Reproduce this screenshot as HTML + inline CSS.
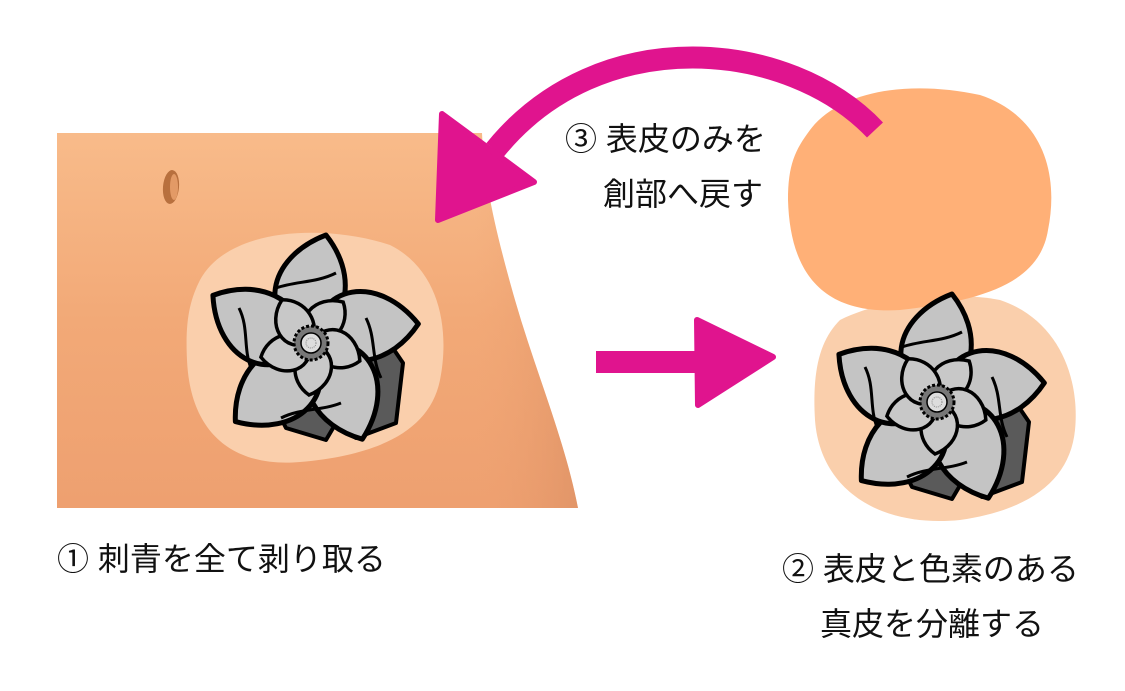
<!DOCTYPE html>
<html><head><meta charset="utf-8"><style>
body{margin:0;background:#fff;width:1125px;height:686px;overflow:hidden}
svg text{font-family:"Liberation Sans","Noto Sans CJK JP",sans-serif;font-size:32px;fill:#111}
</style></head><body>
<svg width="1125" height="686" viewBox="0 0 1125 686" xmlns="http://www.w3.org/2000/svg">
<defs>
<linearGradient id="sk" x1="0" y1="0" x2="0" y2="1">
<stop offset="0" stop-color="#f8bb8a"/><stop offset="0.5" stop-color="#f2a977"/><stop offset="1" stop-color="#eea070"/>
</linearGradient>
<linearGradient id="edge" x1="0" y1="0" x2="1" y2="0">
<stop offset="0.8" stop-color="#eea070" stop-opacity="0"/><stop offset="1" stop-color="#d58a60" stop-opacity="0.5"/>
</linearGradient>
<path id="op" d="M0,0 C-55,-25 -45,-85 15,-108 C45,-70 40,-25 0,0Z"/>
<path id="ip" d="M0,0 C-30,-8 -25,-42 2,-52 C22,-38 20,-10 0,0Z"/>
<g id="fl">
<path d="M-45,45 L-25,85 L15,97 L25,80 L45,95 L85,80 L92,20 L75,-5 L50,30 Z" fill="#5a5a5a" stroke="#000" stroke-width="4" stroke-linejoin="round"/>
<g stroke="#000" stroke-width="5" fill="#c4c4c4" stroke-linejoin="round">
<use href="#op" transform="rotate(0)"/>
<use href="#op" transform="rotate(72)"/>
<use href="#op" transform="rotate(144)"/>
<use href="#op" transform="rotate(216)"/>
<use href="#op" transform="rotate(288)"/>
</g>
<g stroke="#000" stroke-width="3" fill="none">
<path d="M-35,-55 C-15,-62 5,-60 25,-70"/>
<path d="M55,-25 C65,-5 60,15 70,35"/>
<path d="M30,60 C10,68 -10,65 -30,75"/>
<path d="M-60,25 C-68,5 -62,-15 -72,-35"/>
</g>
<circle r="28" fill="#e2e2e2"/>
<g stroke="#000" stroke-width="3.5" fill="#c8c8c8">
<use href="#ip" transform="rotate(36)"/>
<use href="#ip" transform="rotate(108)"/>
<use href="#ip" transform="rotate(180)"/>
<use href="#ip" transform="rotate(252)"/>
<use href="#ip" transform="rotate(324)"/>
</g>
<circle r="17" fill="#777" stroke="#000" stroke-width="3" stroke-dasharray="3 2"/>
<circle r="10" fill="#ddd" stroke="#000" stroke-width="1.5"/>
<circle r="5" fill="none" stroke="#888" stroke-width="1" stroke-dasharray="1 1"/>
</g>
</defs>
<path d="M57,133 L482,133 C484,180 495,230 515,300 C535,370 565,440 578,508 L57,508Z" fill="url(#sk)"/>
<path d="M57,133 L482,133 C484,180 495,230 515,300 C535,370 565,440 578,508 L57,508Z" fill="url(#edge)"/>
<ellipse cx="171" cy="187" rx="8" ry="17" fill="#b8703e" transform="rotate(5 171 187)"/>
<ellipse cx="174" cy="187" rx="4" ry="13" fill="#e39a66"/>
<path d="M200,280 C230,225 330,225 390,245 C440,270 450,330 440,380 C430,430 380,455 300,462 C230,468 190,430 187,360 C185,320 190,300 200,280Z" fill="#facfac"/>
<use href="#fl" transform="translate(311,343)"/>
<path d="M840,320 C880,300 950,290 1000,300 C1060,320 1080,380 1075,430 C1070,480 1030,510 960,520 C880,528 820,490 815,420 C812,370 820,340 840,320Z" fill="#facfac"/>
<path d="M810,130 C840,90 910,80 980,95 C1040,115 1060,170 1048,230 C1040,280 990,300 900,310 C820,315 790,270 788,200 C788,165 795,150 810,130Z" fill="#ffb077"/>
<use href="#fl" transform="translate(937,402)"/>
<path d="M875,130 C790,40 600,20 495,150" fill="none" stroke="#e0148e" stroke-width="22"/>
<path d="M442,114 L534,182 L438,220 Z" fill="#e0148e" stroke="#e0148e" stroke-width="6" stroke-linejoin="round"/>
<rect x="596" y="351" width="110" height="22" fill="#e0148e"/>
<path d="M697,320 L773,357 L698,405 Z" fill="#e0148e" stroke="#e0148e" stroke-width="6" stroke-linejoin="round"/>
<text x="565" y="150">③ 表皮のみを</text>
<text x="603" y="205">創部へ戻す</text>
<text x="57" y="570">① 刺青を全て剥り取る</text>
<text x="782" y="580">② 表皮と色素のある</text>
<text x="820" y="635">真皮を分離する</text>
</svg>
</body></html>
